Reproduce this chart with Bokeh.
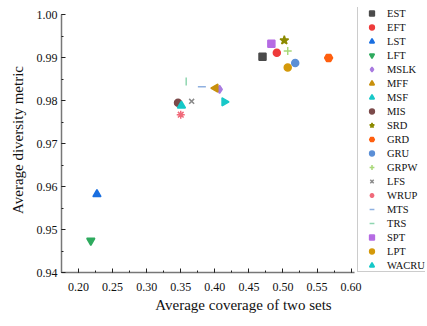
import math
from bokeh.plotting import figure
from bokeh.models import Legend, LegendItem, SingleIntervalTicker, ColumnDataSource, NumeralTickFormatter
from bokeh.embed import file_html
from bokeh.resources import INLINE

# ---- data ----
methods = ["EST", "EFT", "LST", "LFT", "MSLK", "MFF", "MSF", "MIS", "SRD", "GRD",
           "GRU", "GRPW", "LFS", "WRUP", "MTS", "TRS", "SPT", "LPT", "WACRU"]
coverage = [0.470, 0.491, 0.227, 0.218, 0.407, 0.401, 0.414, 0.346, 0.502, 0.567,
            0.518, 0.507, 0.366, 0.350, 0.381, 0.358, 0.483, 0.507, 0.351]
diversity = [0.9902, 0.9911, 0.9582, 0.9474, 0.9826, 0.9829, 0.9797, 0.9795, 0.9940, 0.9899,
             0.9887, 0.9915, 0.9798, 0.9767, 0.9832, 0.9844, 0.9932, 0.9877, 0.9788]
x_axis_bounds = (0.175, 0.605)
y_axis_bounds = (0.94, 1.00)

# ---- styles ----
markers = ["square", "circle", "triangle", "inverted_triangle", "diamond", "triangle",
           "triangle", "circle", "star", "hex", "circle", "cross", "x", "asterisk",
           "dash", "dash", "square", "circle", "triangle"]
angles = [0, 0, 0, 0, 0, math.pi / 2, -math.pi / 2, 0, 0, 0, 0, 0, 0, 0, 0, math.pi / 2, 0, 0, 0]
colors = ["#4a4a4a", "#ee3b3b", "#1a6fe0", "#2eaa5e", "#a97be0", "#c8900c", "#18c8c8",
          "#7b4a4a", "#8c8a00", "#ff5f0f", "#5b8fd6", "#a8d878", "#8a8a8a", "#f06a7a",
          "#8fb0e0", "#8fd6b0", "#b56be3", "#d4990a", "#14c8c8"]
sizes = [7, 7, 8, 8, 8, 8, 8, 7, 9, 8, 7, 8, 7, 8, 8, 8, 7, 7, 8]

FONT = "Liberation Serif"

# frame extends right/up beyond the axes so the legend can sit there;
# the axis lines are limited by their bounds.
px_per_x = 293 / 0.43
px_per_y = 258 / 0.06
x_end = 0.175 + 364 / px_per_x
y_end = 1.0 + 7 / px_per_y

p = figure(width=425, height=320, x_range=(0.175, x_end), y_range=(0.94, y_end),
           output_backend="svg", toolbar_location=None,
           min_border_left=61, min_border_right=0, min_border_top=7, min_border_bottom=48)
p.outline_line_color = None
p.xgrid.grid_line_color = None
p.ygrid.grid_line_color = None

p.xaxis.ticker = SingleIntervalTicker(interval=0.05, num_minor_ticks=2)
p.yaxis.ticker = SingleIntervalTicker(interval=0.01, num_minor_ticks=2)
p.xaxis.formatter = NumeralTickFormatter(format="0.00")
p.yaxis.formatter = NumeralTickFormatter(format="0.00")
p.xaxis.bounds = x_axis_bounds
p.yaxis.bounds = y_axis_bounds

for ax in (p.xaxis[0], p.yaxis[0]):
    ax.axis_line_color = "#777777"
    ax.axis_line_width = 1.5
    ax.major_tick_in = 4
    ax.major_tick_out = 0
    ax.minor_tick_in = 2
    ax.minor_tick_out = 0
    ax.major_tick_line_color = "#222222"
    ax.minor_tick_line_color = "#222222"
    ax.major_label_text_font = FONT
    ax.major_label_text_font_size = "12px"
    ax.major_label_text_color = "#111111"
    ax.axis_label_text_font = FONT
    ax.axis_label_text_font_size = "15px"
    ax.axis_label_text_font_style = "normal"
    ax.axis_label_text_color = "#111111"

p.xaxis.axis_label = "Average coverage of two sets"
p.yaxis.axis_label = "Average diversity metric"
p.xaxis.major_label_standoff = 10
p.xaxis.axis_label_standoff = 3
p.yaxis.major_label_standoff = 4
p.yaxis.axis_label_standoff = 8

items = []
for i, name in enumerate(methods):
    src = ColumnDataSource(dict(x=[coverage[i]], y=[diversity[i]]))
    r = p.scatter("x", "y", source=src, marker=markers[i], size=sizes[i], angle=angles[i],
                  fill_color=colors[i], line_color=colors[i], line_width=1.5)
    items.append(LegendItem(label=name, renderers=[r]))

legend = Legend(items=items, location=(296, 0))
legend.padding = 0
legend.margin = 0
legend.spacing = 2
legend.glyph_width = 27
legend.glyph_height = 12
legend.label_height = 12
legend.label_standoff = 2
legend.label_text_font = FONT
legend.label_text_font_size = "10.5px"
legend.label_text_color = "#111111"
legend.border_line_color = "#999999"
legend.border_line_width = 1
legend.background_fill_color = "white"
p.add_layout(legend)

open("out.html", "w").write(file_html(p, INLINE))
